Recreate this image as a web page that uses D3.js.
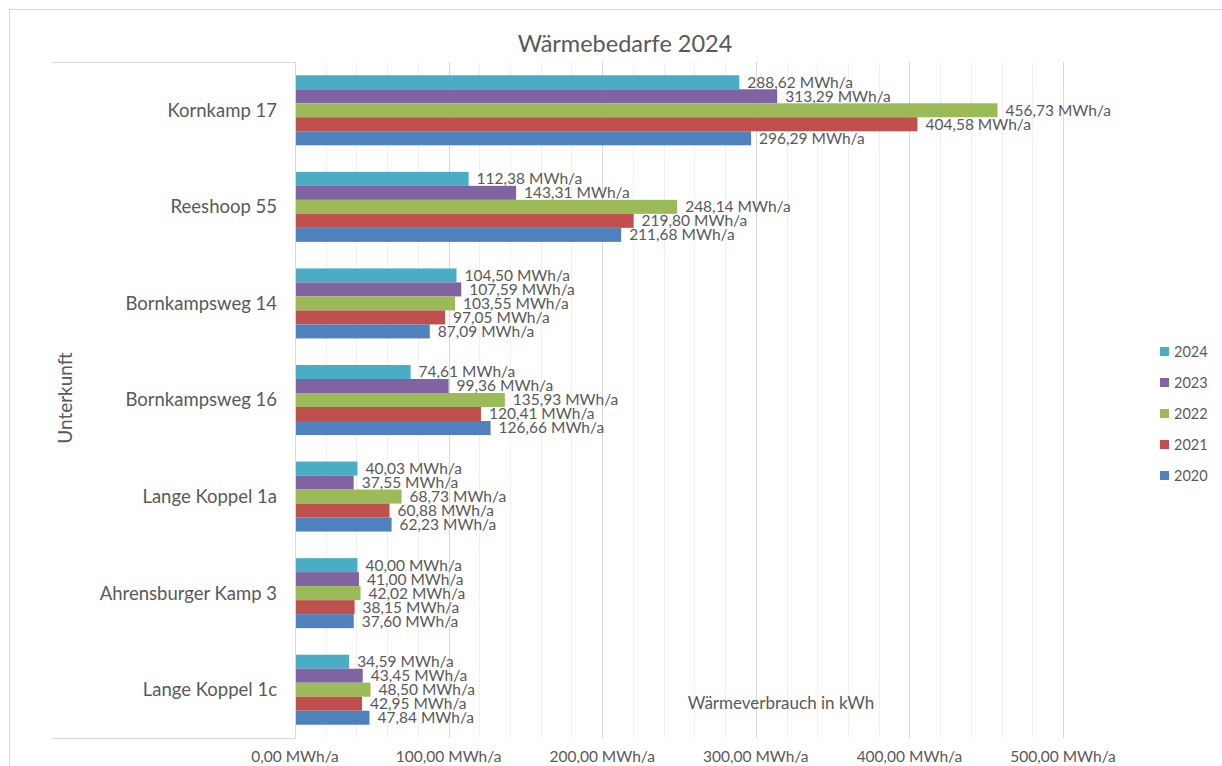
<!DOCTYPE html>
<html>
<head>
<meta charset="utf-8">
<script src="https://cdn.jsdelivr.net/npm/d3@7"></script>
<style>
  body { margin: 0; background: #fff; }
  text { font-family: Lato, "Open Sans", sans-serif; fill: #595959; }
</style>
</head>
<body>
<div id="chart"></div>
<script>
// categories top to bottom
const units = ["Kornkamp 17", "Reeshoop 55", "Bornkampsweg 14", "Bornkampsweg 16",
               "Lange Koppel 1a", "Ahrensburger Kamp 3", "Lange Koppel 1c"];
// series, in the order they are stacked inside a group (top first)
const years = ["2024", "2023", "2022", "2021", "2020"];
const colors = ["#4bacc6", "#8064a2", "#9bbb59", "#c0504d", "#4f81bd"];

// MWh/a per unit
const v2024 = [288.62, 112.38, 104.50, 74.61, 40.03, 40.00, 34.59];
const v2023 = [313.29, 143.31, 107.59, 99.36, 37.55, 41.00, 43.45];
const v2022 = [456.73, 248.14, 103.55, 135.93, 68.73, 42.02, 48.50];
const v2021 = [404.58, 219.80, 97.05, 120.41, 60.88, 38.15, 42.95];
const v2020 = [296.29, 211.68, 87.09, 126.66, 62.23, 37.60, 47.84];
const series = [v2024, v2023, v2022, v2021, v2020];

const xTicks = [0, 100, 200, 300, 400, 500];

const W = 1222, H = 766;
const svg = d3.select("#chart").append("svg").attr("width", W).attr("height", H);

// outer chart frame
svg.append("rect")
  .attr("x", 9.5).attr("y", 9.5).attr("width", W).attr("height", H)
  .attr("fill", "none").attr("stroke", "#d9d9d9");

const plotTop = 62, plotBottom = 738, plotLeft = 295;

const x = d3.scaleLinear().domain([0, 500]).range([plotLeft, 1063]);
const y = d3.scaleBand().domain(units).range([plotTop, plotBottom]).paddingInner(0.275).paddingOuter(0.1375);
const yInner = d3.scaleBand().domain(years).range([0, y.bandwidth()]);

const de = d3.formatLocale({decimal: ",", thousands: ".", grouping: [3], currency: ["", "€"]});
const fmt = de.format(",.2f");

// minor gridlines every 20
svg.append("g").selectAll("line")
  .data(d3.range(20, 501, 20).filter(d => d % 100 !== 0))
  .join("line")
  .attr("x1", d => Math.round(x(d)) + 0.5).attr("x2", d => Math.round(x(d)) + 0.5)
  .attr("y1", plotTop).attr("y2", plotBottom)
  .attr("stroke", "#f0f0f0");

// major gridlines
svg.append("g").selectAll("line")
  .data(xTicks.slice(1))
  .join("line")
  .attr("x1", d => Math.round(x(d)) + 0.5).attr("x2", d => Math.round(x(d)) + 0.5)
  .attr("y1", plotTop).attr("y2", plotBottom)
  .attr("stroke", "#d9d9d9");

// category axis box
const axisBox = svg.append("g").attr("stroke", "#d9d9d9").attr("fill", "none");
axisBox.append("line").attr("x1", 51).attr("x2", plotLeft + 0.5).attr("y1", plotTop + 0.5).attr("y2", plotTop + 0.5);
axisBox.append("line").attr("x1", 51).attr("x2", plotLeft + 0.5).attr("y1", plotBottom + 0.5).attr("y2", plotBottom + 0.5);
axisBox.append("line").attr("x1", plotLeft + 0.5).attr("x2", plotLeft + 0.5).attr("y1", plotTop).attr("y2", plotBottom + 0.5);

// bars
const groups = svg.append("g").selectAll("g")
  .data(units)
  .join("g")
  .attr("transform", d => `translate(0,${y(d)})`);

groups.each(function(u, i) {
  const g = d3.select(this);
  years.forEach((yr, k) => {
    const val = series[k][i];
    g.append("rect")
      .attr("x", x(0) + 1)
      .attr("y", yInner(yr))
      .attr("width", x(val) - x(0))
      .attr("height", yInner.bandwidth())
      .attr("fill", colors[k]);
    g.append("text")
      .attr("x", x(val) + 9)
      .attr("y", yInner(yr) + yInner.bandwidth() / 2)
      .attr("dy", "0.35em")
      .attr("font-size", 15.5)
      .attr("fill", "#404040")
      .text(fmt(val) + " MWh/a");
  });
});

// category labels
svg.append("g").selectAll("text")
  .data(units)
  .join("text")
  .attr("x", 277)
  .attr("y", d => y(d) + y.bandwidth() / 2)
  .attr("dy", "0.35em")
  .attr("text-anchor", "end")
  .attr("font-size", 18.5)
  .text(d => d);

// x tick labels
svg.append("g").selectAll("text")
  .data(xTicks)
  .join("text")
  .attr("x", d => x(d))
  .attr("y", 757)
  .attr("dy", "0.35em")
  .attr("text-anchor", "middle")
  .attr("font-size", 15.5)
  .text(d => fmt(d) + " MWh/a");

// title
svg.append("text")
  .attr("x", 625).attr("y", 44)
  .attr("dy", "0.35em")
  .attr("text-anchor", "middle")
  .attr("font-size", 23.5)
  .text("Wärmebedarfe 2024");

// axis titles
svg.append("text")
  .attr("transform", "translate(65,398) rotate(-90)")
  .attr("dy", "0.35em")
  .attr("text-anchor", "middle")
  .attr("font-size", 19)
  .text("Unterkunft");

svg.append("text")
  .attr("x", 781).attr("y", 703)
  .attr("dy", "0.35em")
  .attr("text-anchor", "middle")
  .attr("font-size", 17)
  .text("Wärmeverbrauch in kWh");

// legend
const legend = svg.append("g").selectAll("g")
  .data(years)
  .join("g")
  .attr("transform", (d, i) => `translate(1160,${352 + i * 31})`);
legend.append("rect")
  .attr("x", 0).attr("y", -5).attr("width", 9).attr("height", 9)
  .attr("fill", (d, i) => colors[i]);
legend.append("text")
  .attr("x", 14).attr("y", 0)
  .attr("dy", "0.35em")
  .attr("font-size", 14.5)
  .text(d => d);
</script>
</body>
</html>
